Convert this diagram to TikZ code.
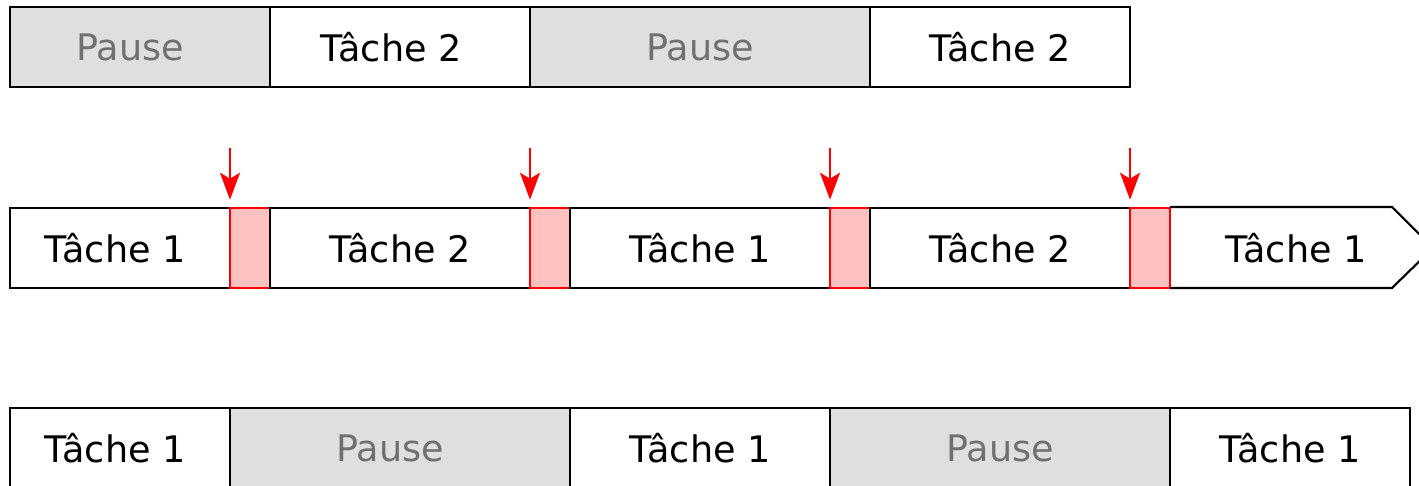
\documentclass[tikz,border=0pt]{standalone}
\usepackage{fontspec}
\setmainfont{DejaVu Sans}
\usetikzlibrary{arrows.meta}

\definecolor{pausefill}{HTML}{DFDFDF}
\definecolor{pausetext}{HTML}{707070}
\definecolor{switchfill}{HTML}{FFC0C0}

% shift a label left inside its box
\newcommand{\lft}[2]{#2\hspace*{#1}}

\tikzset{
  slot/.style={draw, line width=0.6pt, inner sep=0pt, minimum height=0.8cm, font=\fontsize{10.4}{12}\selectfont},
  taskbox/.style={slot, fill=white},
  pausebox/.style={slot, fill=pausefill, text=pausetext},
  switchbox/.style={slot, draw=red, line width=0.7pt, fill=switchfill, minimum width=0.4cm},
  irq/.style={red, line width=0.6pt, -{Stealth[length=0.27cm, width=0.2cm, inset=0.06cm]}},
}

\begin{document}
\begin{tikzpicture}[x=0.01cm, y=-0.01cm]
            \useasboundingbox (0,0) rectangle (1419,486);
            % top row
            \draw (140, 47) node[pausebox, minimum width=2.6cm](a1){\lft{0.2cm}{Pause}};
            \draw (400, 47) node[taskbox, minimum width=2.6cm](a2){\lft{0.18cm}{Tâche 2}};
            \draw (700, 47) node[pausebox, minimum width=3.4cm](a3){Pause};
            \draw (1000, 47) node[taskbox, minimum width=2.6cm](a4){Tâche 2};
            % middle row, with switches
            \draw (120, 248) node[taskbox, minimum width=2.2cm](b1){\lft{0.1cm}{Tâche 1}};
            \draw (250, 248) node[switchbox](s1){};
            \draw (400, 248) node[taskbox, minimum width=2.6cm](b2){Tâche 2};
            \draw (550, 248) node[switchbox](s2){};
            \draw (700, 248) node[taskbox, minimum width=2.6cm](b3){Tâche 1};
            \draw (850, 248) node[switchbox](s3){};
            \draw (1000, 248) node[taskbox, minimum width=2.6cm](b4){Tâche 2};
            \draw (1150, 248) node[switchbox](s4){};
            \draw[line width=0.6pt] (1170, 207) -- (1392, 207) -- (1433, 248) -- (1392, 288) -- (1170, 288);
            \draw (1296, 248) node[font=\fontsize{10.4}{12}\selectfont](b5){Tâche 1};
            \coordinate (i1) at (230, 148);
            \coordinate (i2) at (530, 148);
            \coordinate (i3) at (830, 148);
            \coordinate (i4) at (1130, 148);
            \draw[irq] (i1) -- ([yshift=0.07cm]i1 |- s1.north);
            \draw[irq] (i2) -- ([yshift=0.07cm]i2 |- s2.north);
            \draw[irq] (i3) -- ([yshift=0.07cm]i3 |- s3.north);
            \draw[irq] (i4) -- ([yshift=0.07cm]i4 |- s4.north);
            % bottom row
            \draw (120, 448) node[taskbox, minimum width=2.2cm](c1){\lft{0.1cm}{Tâche 1}};
            \draw (400, 448) node[pausebox, minimum width=3.4cm](c2){\lft{0.2cm}{Pause}};
            \draw (700, 448) node[taskbox, minimum width=2.6cm](c3){Tâche 1};
            \draw (1000, 448) node[pausebox, minimum width=3.4cm](c4){Pause};
            \draw (1290, 448) node[taskbox, minimum width=2.4cm](c5){Tâche 1};
        \end{tikzpicture}
\end{document}
